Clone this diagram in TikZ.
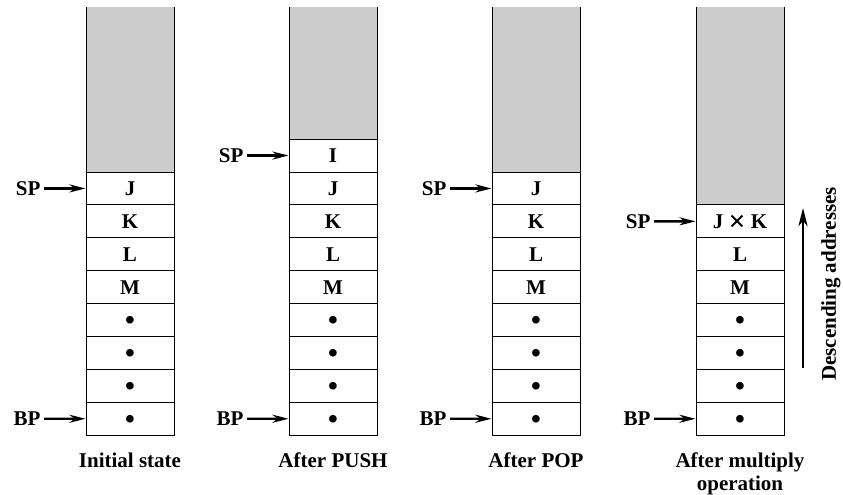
\documentclass[tikz,border=0pt]{standalone}
\usepackage{fontspec}
\setmainfont{Liberation Serif}
\usetikzlibrary{arrows.meta,positioning}

\newcommand\stackdot{\raisebox{-2.6pt}{\fontsize{28}{28}\selectfont\textbullet}}
\newcommand\multsign{\raisebox{-3pt}{\fontsize{30}{28}\selectfont ×}}

\tikzset{
  cell/.style={draw, line width=1pt, minimum width=88pt, minimum height=32.9pt,
    inner sep=0pt, text height=14pt, text depth=0pt},
  free/.style={fill=black!20},
  ptr/.style={-{Stealth[length=16pt,width=8pt,inset=5pt]}, line width=2.4pt},
  caption/.style={anchor=north, align=center},
}

\begin{document}
\begin{tikzpicture}[x=1pt, y=-1pt, line join=round,
    every node/.style={font=\fontsize{21}{23}\selectfont\bfseries}]
  \useasboundingbox (0,0) rectangle (843,495);

  % initial state
  \fill[free] (86,7) rectangle (174,172);
  \draw[line width=1pt] (86,7) -- (86,172) (174,7) -- (174,172);
  \foreach \t [count=\i] in {J,K,L,M,\stackdot,\stackdot,\stackdot,\stackdot}
    \node[cell] (a\i) at (130,{172+16.45+32.9*(\i-1)}) {\t};
  \node[anchor=east] (spa) at (44,188.45) {SP};
  \node[anchor=east] (bpa) at (44,418.8) {BP};
  \draw[ptr] (spa) -- (a1.west);
  \draw[ptr] (bpa) -- (a8.west);
  \node[caption] (capa) at (130,449) {Initial state};

  % after push
  \fill[free] (289,7) rectangle (377,139.1);
  \draw[line width=1pt] (289,7) -- (289,139.1) (377,7) -- (377,139.1);
  \foreach \t [count=\i] in {I,J,K,L,M,\stackdot,\stackdot,\stackdot,\stackdot}
    \node[cell] (b\i) at (333,{139.1+16.45+32.9*(\i-1)}) {\t};
  \node[anchor=east] (spb) at (247,155.55) {SP};
  \node[anchor=east] (bpb) at (247,418.8) {BP};
  \draw[ptr] (spb) -- (b1.west);
  \draw[ptr] (bpb) -- (b9.west);
  \node[caption] (capb) at (333,449) {After PUSH};

  % after pop
  \fill[free] (492,7) rectangle (580,172);
  \draw[line width=1pt] (492,7) -- (492,172) (580,7) -- (580,172);
  \foreach \t [count=\i] in {J,K,L,M,\stackdot,\stackdot,\stackdot,\stackdot}
    \node[cell] (c\i) at (536,{172+16.45+32.9*(\i-1)}) {\t};
  \node[anchor=east] (spc) at (450,188.45) {SP};
  \node[anchor=east] (bpc) at (450,418.8) {BP};
  \draw[ptr] (spc) -- (c1.west);
  \draw[ptr] (bpc) -- (c8.west);
  \node[caption] (capc) at (536,449) {After POP};

  % after multiply
  \fill[free] (696,7) rectangle (784,204.9);
  \draw[line width=1pt] (696,7) -- (696,204.9) (784,7) -- (784,204.9);
  \foreach \t [count=\i] in {J \multsign{} K,L,M,\stackdot,\stackdot,\stackdot,\stackdot}
    \node[cell] (d\i) at (740,{204.9+16.45+32.9*(\i-1)}) {\t};
  \node[anchor=east] (spd) at (654,221.35) {SP};
  \node[anchor=east] (bpd) at (654,418.8) {BP};
  \draw[ptr] (spd) -- (d1.west);
  \draw[ptr] (bpd) -- (d7.west);
  \node[caption] (capd) at (740,449) {After multiply\\operation};

  % address direction
  \coordinate (lo) at (803,368);
  \coordinate (hi) at (803,208);
  \draw[-{Stealth[length=18pt,width=9pt,inset=5pt]}, line width=2.6pt] (lo) -- (hi);
  \node[rotate=90] (desc) at (831,284) {Descending addresses};
\end{tikzpicture}
\end{document}
